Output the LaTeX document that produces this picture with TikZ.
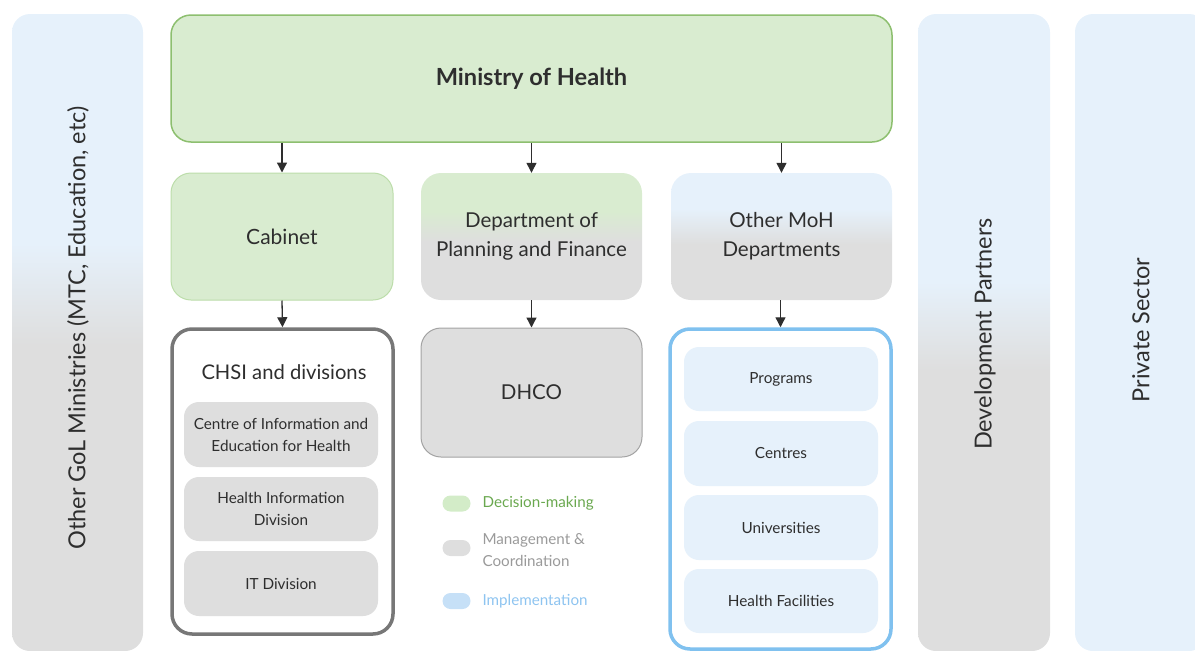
\documentclass[tikz,border=0pt]{standalone}
\usepackage{fontspec}
\setmainfont{Lato}
\usetikzlibrary{positioning,arrows.meta}

\definecolor{mohgreen}{HTML}{D9ECD0}
\definecolor{mohedge}{HTML}{8DBF6F}
\definecolor{cabedge}{HTML}{BCDDAA}
\definecolor{mgmtgray}{HTML}{DEDEDE}
\definecolor{grayedge}{HTML}{A3A3A3}
\definecolor{implblue}{HTML}{E6F1FB}
\definecolor{impledge}{HTML}{80C1EF}
\definecolor{chsiedge}{HTML}{777777}
\definecolor{inktext}{HTML}{2E2E2E}
\definecolor{keygreen}{HTML}{D3ECC8}
\definecolor{keygreentext}{HTML}{6AA84F}
\definecolor{keygraytext}{HTML}{9A9A9A}
\definecolor{keyblue}{HTML}{C6E0F7}
\definecolor{keybluetext}{HTML}{8EC4F0}

% Two-tone fills: 25bp is the bottom of the shape, 75bp its top.
\pgfdeclareverticalshading{greentogray}{100bp}{color(0bp)=(mgmtgray); color(48bp)=(mgmtgray); color(60bp)=(mohgreen); color(100bp)=(mohgreen)}
\pgfdeclareverticalshading{bluetogray}{100bp}{color(0bp)=(mgmtgray); color(47bp)=(mgmtgray); color(61bp)=(implblue); color(100bp)=(implblue)}
\pgfdeclareverticalshading{sidebluegray}{100bp}{color(0bp)=(mgmtgray); color(49bp)=(mgmtgray); color(57bp)=(implblue); color(100bp)=(implblue)}
\pgfdeclareverticalshading{devbluegray}{100bp}{color(0bp)=(mgmtgray); color(47bp)=(mgmtgray); color(54bp)=(implblue); color(100bp)=(implblue)}

\begin{document}
\begin{tikzpicture}[x=1pt,y=-1pt,
  box/.style={rounded corners=20pt,inner sep=0pt,align=center,text=inktext,
    font=\fontsize{20.5}{29}\selectfont},
  unit/.style={rounded corners=15pt,inner sep=0pt,align=center,text=inktext,
    minimum width=194pt,font=\fontsize{15.3}{22}\selectfont},
  column/.style={rounded corners=18pt,inner sep=0pt,minimum height=637pt},
  coltitle/.style={rotate=90,text=inktext,font=\fontsize{23.5}{28}\selectfont},
  keypill/.style={rounded corners=8pt,minimum width=28pt,minimum height=16pt,inner sep=0pt},
  keytext/.style={anchor=west,align=left,font=\fontsize{15.2}{22}\selectfont},
  arr/.style={draw=inktext,line width=1.3pt,-{Triangle[length=10pt,width=10pt]}}]

\useasboundingbox (0,0) rectangle (1195,651);

% Side columns.
\node[column,shading=sidebluegray,minimum width=131pt] (gol) at (77.5,332.5) {};
\node[coltitle] (goltext) at (78,328) {Other GoL Ministries (MTC, Education, etc)};
\node[column,shading=devbluegray,minimum width=132pt] (devp) at (984,332.5) {};
\node[coltitle] (devptext) at (985,334) {Development Partners};
\node[column,fill=implblue,minimum width=132pt] (priv) at (1141,332.5) {};
\node[coltitle] (privtext) at (1141,330) {Private Sector};

% Ministry and its three branches.
\node[box,fill=mohgreen,draw=mohedge,line width=1.5pt,minimum width=721pt,minimum height=127pt,
  font=\fontsize{23.6}{28}\bfseries] (moh) at (531.5,78.5) {Ministry of Health};

\node[box,fill=mohgreen,draw=cabedge,line width=1pt,minimum width=222pt,minimum height=127pt,
  font=\fontsize{21}{29}\selectfont] (cabinet) at (282,236.5) {Cabinet};
\node[box,shading=greentogray,minimum width=221pt,minimum height=127pt]
  (dpf) at (531.5,236.5) {Department of\\Planning and Finance};
\node[box,shading=bluetogray,minimum width=221pt,minimum height=127pt]
  (othermoh) at (781.5,236.5) {Other MoH\\Departments};

% CHSI and its divisions.
\node[box,fill=white,draw=chsiedge,line width=3.5pt,minimum width=221pt,minimum height=305pt]
  (chsi) at (282.5,481.5) {};
\node[text=inktext,font=\fontsize{20.2}{24}\selectfont] (chsititle) at (284,372) {CHSI and divisions};
\node[unit,fill=mgmtgray,minimum height=65pt] (cieh) at (281,434.5)
  {Centre of Information and\\Education for Health};
\node[unit,fill=mgmtgray,minimum height=64pt] (hid) at (281,509) {Health Information\\Division};
\node[unit,fill=mgmtgray,minimum height=65pt] (itd) at (281,583.5) {IT Division};

% DHCO.
\node[box,fill=mgmtgray,draw=grayedge,line width=1pt,minimum width=221pt,minimum height=129pt]
  (dhco) at (531.5,392.5) {DHCO};

% Implementing bodies.
\node[box,fill=white,draw=impledge,line width=3.5pt,minimum width=221pt,minimum height=320pt]
  (impl) at (780.5,489) {};
\node[unit,fill=implblue,minimum height=64pt] (progs) at (781,379) {Programs};
\node[unit,fill=implblue,minimum height=65pt] (centres) at (781,453.5) {Centres};
\node[unit,fill=implblue,minimum height=65pt] (univ) at (781,527.5) {Universities};
\node[unit,fill=implblue,minimum height=64pt] (hfac) at (781,601) {Health Facilities};

% Key.
\node[keypill,fill=keygreen] (kdec) at (456.5,503.5) {};
\node[keytext,text=keygreentext] (kdectext) at (479,503.5) {Decision-making};
\node[keypill,fill=mgmtgray] (kmgmt) at (456.5,548) {};
\node[keytext,text=keygraytext] (kmgmttext) at (479,550) {Management \&\\Coordination};
\node[keypill,fill=keyblue] (kimpl) at (456.5,601) {};
\node[keytext,text=keybluetext] (kimpltext) at (479,601) {Implementation};

% Arrows.
\draw[arr] (moh.south -| cabinet.north) -- (cabinet.north);
\draw[arr] (moh.south -| dpf.north) -- (dpf.north);
\draw[arr] (moh.south -| othermoh.north) -- (othermoh.north);
\draw[arr] (cabinet.south) -- (chsi.north);
\draw[arr] (dpf.south) -- (dhco.north);
\draw[arr] (othermoh.south -| impl.north) -- (impl.north);

\end{tikzpicture}
\end{document}
